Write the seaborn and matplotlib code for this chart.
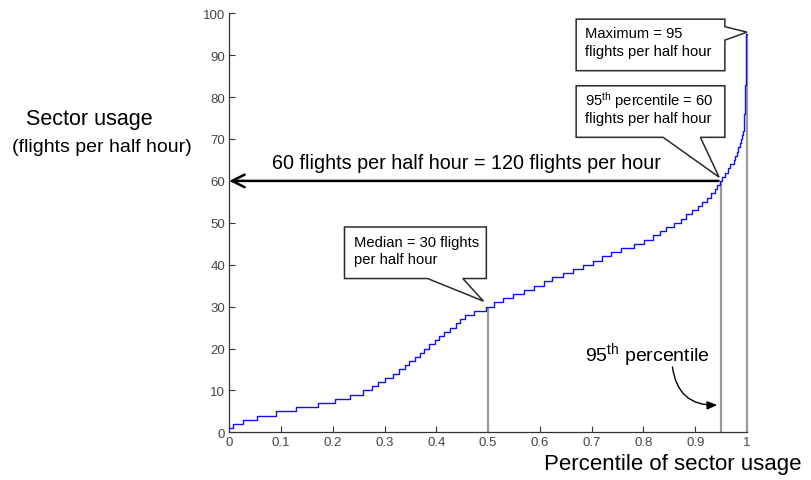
import matplotlib
matplotlib.use("Agg")
import matplotlib.pyplot as plt
import seaborn as sns
import pandas as pd
from matplotlib.patches import Polygon

# ---- data ----
usage_levels = [1, 2, 3, 4, 5, 6, 7, 8, 9, 10, 11, 12, 13, 14, 15, 16, 17, 18, 19, 20,
                21, 22, 23, 24, 25, 26, 27, 28, 29, 30, 31, 32, 33, 34, 35, 36, 37, 38, 39, 40,
                41, 42, 43, 44, 45, 46, 47, 48, 49, 50, 51, 52, 53, 54, 55, 56, 57, 58, 59, 60,
                61, 62, 63, 64, 65, 66, 67, 68, 69, 70, 71, 72, 74, 76, 79, 83, 88, 95, 95]
percentile_starts = [0.000, 0.008, 0.026, 0.053, 0.090, 0.129, 0.171, 0.204, 0.233, 0.258,
                     0.275, 0.287, 0.301, 0.316, 0.328, 0.339, 0.348, 0.359, 0.368, 0.377,
                     0.386, 0.398, 0.406, 0.415, 0.427, 0.437, 0.445, 0.456, 0.472, 0.495,
                     0.512, 0.529, 0.548, 0.569, 0.588, 0.607, 0.624, 0.645, 0.664, 0.684,
                     0.703, 0.720, 0.738, 0.757, 0.781, 0.801, 0.819, 0.832, 0.844, 0.859,
                     0.872, 0.883, 0.894, 0.905, 0.914, 0.922, 0.930, 0.938, 0.943, 0.947,
                     0.952, 0.957, 0.963, 0.968, 0.974, 0.977, 0.980, 0.983, 0.986, 0.989,
                     0.991, 0.9925, 0.9935, 0.9945, 0.9955, 0.9965, 0.9975, 0.9985, 1.000]

marker_pcts = [0.5, 0.95, 1.0]
marker_vals = [30, 60, 95]

x_ticks = [0, 0.1, 0.2, 0.3, 0.4, 0.5, 0.6, 0.7, 0.8, 0.9, 1]
x_ticklabels = ["0", "0.1", "0.2", "0.3", "0.4", "0.5", "0.6", "0.7", "0.8", "0.9", "1"]
y_ticks = [0, 10, 20, 30, 40, 50, 60, 70, 80, 90, 100]

df = pd.DataFrame({"pct": percentile_starts, "usage": usage_levels})

sns.set_style("ticks")
plt.rcParams["font.family"] = ["Liberation Sans", "DejaVu Sans"]
plt.rcParams["text.color"] = "black"
plt.rcParams["mathtext.fontset"] = "custom"
plt.rcParams["mathtext.rm"] = "Liberation Sans"
plt.rcParams["mathtext.it"] = "Liberation Sans"

fig = plt.figure(figsize=(8.11, 4.81), dpi=100)
ax = fig.add_axes([229.3 / 811, 1 - 433.3 / 481, (747 - 229.3) / 811, (433.3 - 14.3) / 481])

# vertical gray marker lines
for p, v in zip(marker_pcts, marker_vals):
    ax.plot([p, p], [0, v], color="#999999", lw=1.6, zorder=2, solid_capstyle="butt", clip_on=False)

sns.lineplot(data=df, x="pct", y="usage", ax=ax, color="#1010ff", lw=1.0,
             drawstyle="steps-post", estimator=None, sort=False, zorder=3, clip_on=False)

ax.set_xlim(0, 1)
ax.set_ylim(0, 100)
ax.set_xticks(x_ticks)
ax.set_xticklabels(x_ticklabels)
ax.set_yticks(y_ticks)
ax.tick_params(direction="in", length=4, width=0.8, labelsize=9.5,
               labelcolor="#444444", color="#333333", pad=3)
ax.spines["top"].set_visible(False)
ax.spines["right"].set_visible(False)
for s in ("left", "bottom"):
    ax.spines[s].set_color("#333333")
    ax.spines[s].set_linewidth(0.9)
ax.set_xlabel("")
ax.set_ylabel("")

# axis labels
fig.text(89 / 811, 1 - 120 / 481, "Sector usage", ha="center", va="center", fontsize=15.5)
fig.text(102 / 811, 1 - 147 / 481, "(flights per half hour)", ha="center", va="center", fontsize=14)
fig.text(802 / 811, 1 - 465 / 481, "Percentile of sector usage", ha="right", va="center", fontsize=16)

# 60 flights arrow
ax.annotate("", xy=(0.0, 60), xytext=(0.945, 60),
            arrowprops=dict(arrowstyle="->,head_length=0.9,head_width=0.45", color="black", lw=1.8,
                            shrinkA=0, shrinkB=0), annotation_clip=False, zorder=4)
ax.text(0.4575, 64.4, "60 flights per half hour = 120 flights per hour",
        ha="center", va="center", fontsize=14.2, zorder=5)


def callout(verts, ax):
    poly = Polygon(verts, closed=True, facecolor="white", edgecolor="#2a2a2a", lw=1.1,
                   zorder=6, clip_on=False, joinstyle="miter")
    ax.add_patch(poly)


# Median callout
x0, x1, yt, yb = 0.2225, 0.4965, 49.0, 36.7
callout([(x0, yt), (x1, yt), (x1, yb), (0.451, yb), (0.491, 31.3), (0.383, yb), (x0, yb)], ax)
ax.text(0.2405, 45.5, "Median = 30 flights", fontsize=10.6, va="center", ha="left", zorder=7)
ax.text(0.2405, 41.4, "per half hour", fontsize=10.6, va="center", ha="left", zorder=7)

# 95th percentile callout
x0, x1, yt, yb = 0.670, 0.9573, 82.7, 70.4
callout([(x0, yt), (x1, yt), (x1, yb), (0.910, yb), (0.946, 60.9), (0.838, yb), (x0, yb)], ax)
ax.text(0.6867, 79.4, "95$^{\\rm th}$ percentile = 60", fontsize=10.6, va="center", ha="left", zorder=7)
ax.text(0.6867, 75.0, "flights per half hour", fontsize=10.6, va="center", ha="left", zorder=7)

# Maximum callout
x0, x1, yt, yb = 0.670, 0.9573, 98.6, 86.3
callout([(x0, yt), (x1, yt), (x1, 96.8), (1.0, 95.5), (x1, 93.6), (x1, yb), (x0, yb)], ax)
ax.text(0.6867, 95.2, "Maximum = 95", fontsize=10.6, va="center", ha="left", zorder=7)
ax.text(0.6867, 90.9, "flights per half hour", fontsize=10.6, va="center", ha="left", zorder=7)

# 95th percentile curved arrow
ax.text(0.807, 18.7, "95$^{\\rm th}$ percentile", fontsize=14, ha="center", va="center", zorder=7)
ax.annotate("", xy=(0.9425, 6.5), xytext=(0.856, 15.6),
            arrowprops=dict(arrowstyle="-|>,head_length=0.6,head_width=0.25", color="black", lw=1.0,
                            connectionstyle="arc3,rad=0.45", shrinkA=0, shrinkB=0), zorder=7)

fig.savefig("out.png", dpi=100, facecolor="white")
